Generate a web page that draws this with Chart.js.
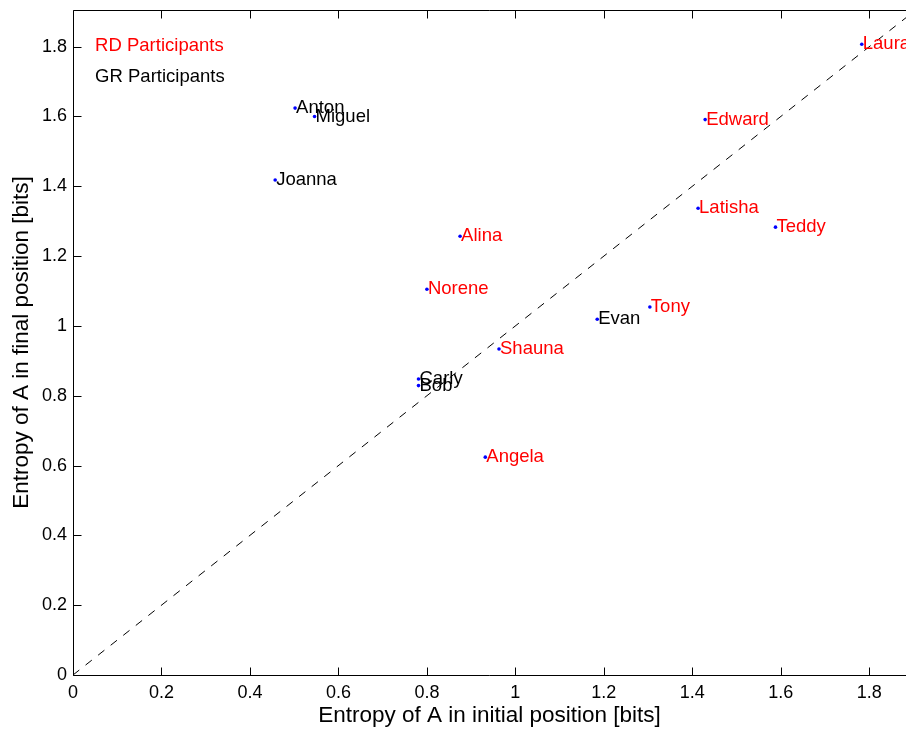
<!DOCTYPE html>
<html>
<head>
<meta charset="utf-8">
<script src="https://cdn.jsdelivr.net/npm/chart.js@4/dist/chart.umd.min.js"></script>
<style>
  body { margin: 0; background: #fff; overflow: hidden; }
</style>
</head>
<body>
<canvas id="scatterChart" width="906" height="729"></canvas>
<script>
// RD participants (red labels)
const rdNames = ["Laura", "Edward", "Latisha", "Teddy", "Alina", "Norene", "Tony", "Shauna", "Angela"];
const rdX = [1.783, 1.429, 1.413, 1.588, 0.875, 0.800, 1.304, 0.963, 0.932];
const rdY = [1.807, 1.591, 1.337, 1.283, 1.257, 1.105, 1.054, 0.934, 0.624];

// GR participants (black labels)
const grNames = ["Anton", "Miguel", "Joanna", "Evan", "Carly", "Bob"];
const grX = [0.502, 0.546, 0.457, 1.185, 0.781, 0.781];
const grY = [1.624, 1.600, 1.418, 1.019, 0.848, 0.829];

const xTicks = [0, 0.2, 0.4, 0.6, 0.8, 1, 1.2, 1.4, 1.6, 1.8];
const yTicks = [0, 0.2, 0.4, 0.6, 0.8, 1, 1.2, 1.4, 1.6, 1.8];
const diagonal = [0, 2];

const FONT = "'Liberation Sans', Arial, sans-serif";

function points(xs, ys) {
  return xs.map((v, i) => ({ x: v, y: ys[i] }));
}

// axes box with ticks pointing inwards, like matlab
const framePlugin = {
  id: 'frame',
  afterDraw(chart) {
    const ctx = chart.ctx;
    const a = chart.chartArea;
    const x = chart.scales.x, y = chart.scales.y;
    const L = Math.round(a.left) + 0.5, B = Math.round(a.bottom) + 0.5, T = Math.round(a.top) + 0.5;
    ctx.save();
    ctx.strokeStyle = '#000';
    ctx.lineWidth = 1;
    ctx.beginPath();
    ctx.moveTo(L, T); ctx.lineTo(a.right, T);
    ctx.moveTo(L, T); ctx.lineTo(L, B); ctx.lineTo(a.right, B);
    xTicks.forEach(v => {
      const px = Math.round(x.getPixelForValue(v)) + 0.5;
      ctx.moveTo(px, B); ctx.lineTo(px, B - 8);
      ctx.moveTo(px, T); ctx.lineTo(px, T + 8);
    });
    yTicks.forEach(v => {
      const py = Math.round(y.getPixelForValue(v)) + 0.5;
      ctx.moveTo(L, py); ctx.lineTo(L + 8, py);
    });
    ctx.stroke();
    ctx.restore();
  }
};

// names next to each dot + the two text "legend" lines
const labelPlugin = {
  id: 'names',
  afterDatasetsDraw(chart) {
    const ctx = chart.ctx;
    ctx.save();
    ctx.font = '18.5px ' + FONT;
    ctx.textBaseline = 'middle';
    ctx.textAlign = 'left';
    [[0, rdNames, '#ff0000'], [1, grNames, '#000000']].forEach(([idx, names, col]) => {
      const meta = chart.getDatasetMeta(idx);
      ctx.fillStyle = col;
      meta.data.forEach((pt, i) => ctx.fillText(names[i], pt.x + 1, pt.y));
    });
    const x = chart.scales.x, y = chart.scales.y;
    ctx.fillStyle = '#ff0000';
    ctx.fillText('RD Participants', x.getPixelForValue(0.05), y.getPixelForValue(1.802));
    ctx.fillStyle = '#000000';
    ctx.fillText('GR Participants', x.getPixelForValue(0.05), y.getPixelForValue(1.713));
    ctx.restore();
  }
};

const ctxS = document.getElementById('scatterChart').getContext('2d');
new Chart(ctxS, {
  type: 'scatter',
  data: {
    datasets: [
      {
        label: 'RD Participants',
        data: points(rdX, rdY),
        backgroundColor: '#0000ff',
        borderWidth: 0,
        pointRadius: 1.8
      },
      {
        label: 'GR Participants',
        data: points(grX, grY),
        backgroundColor: '#0000ff',
        borderWidth: 0,
        pointRadius: 1.8
      },
      {
        type: 'line',
        label: 'x = y',
        data: points(diagonal, diagonal),
        borderColor: '#000',
        borderWidth: 1,
        borderDash: [8, 8],
        pointRadius: 0,
        fill: false
      }
    ]
  },
  options: {
    responsive: false,
    animation: false,
    layout: { autoPadding: false, padding: { top: 10, right: 0, left: 0, bottom: 0 } },
    plugins: {
      legend: { display: false },
      tooltip: { enabled: false }
    },
    scales: {
      x: {
        type: 'linear',
        min: 0,
        max: 1.883,
        afterFit: s => { s.height = 54; s.paddingLeft = 0; s.paddingRight = 0; },
        afterBuildTicks: s => { s.ticks = xTicks.map(v => ({ value: v })); },
        grid: { display: false, drawTicks: false },
        border: { display: false },
        ticks: {
          color: '#000',
          font: { family: FONT, size: 18 },
          padding: 7,
          maxRotation: 0,
          callback: v => String(+v.toFixed(1))
        },
        title: {
          display: true,
          text: 'Entropy of A in initial position [bits]',
          color: '#000',
          font: { family: FONT, size: 22.5 },
          padding: { top: 0, bottom: 0 }
        }
      },
      y: {
        type: 'linear',
        min: 0,
        max: 1.905,
        afterFit: s => { s.width = 73; s.paddingTop = 0; s.paddingBottom = 0; },
        afterBuildTicks: s => { s.ticks = yTicks.map(v => ({ value: v })); },
        grid: { display: false, drawTicks: false },
        border: { display: false },
        ticks: {
          color: '#000',
          font: { family: FONT, size: 18 },
          padding: 6,
          callback: v => String(+v.toFixed(1))
        },
        title: {
          display: true,
          text: 'Entropy of A in final position [bits]',
          color: '#000',
          font: { family: FONT, size: 22.5 },
          padding: { top: 8, bottom: 0 }
        }
      }
    }
  },
  plugins: [framePlugin, labelPlugin]
});
</script>
</body>
</html>
